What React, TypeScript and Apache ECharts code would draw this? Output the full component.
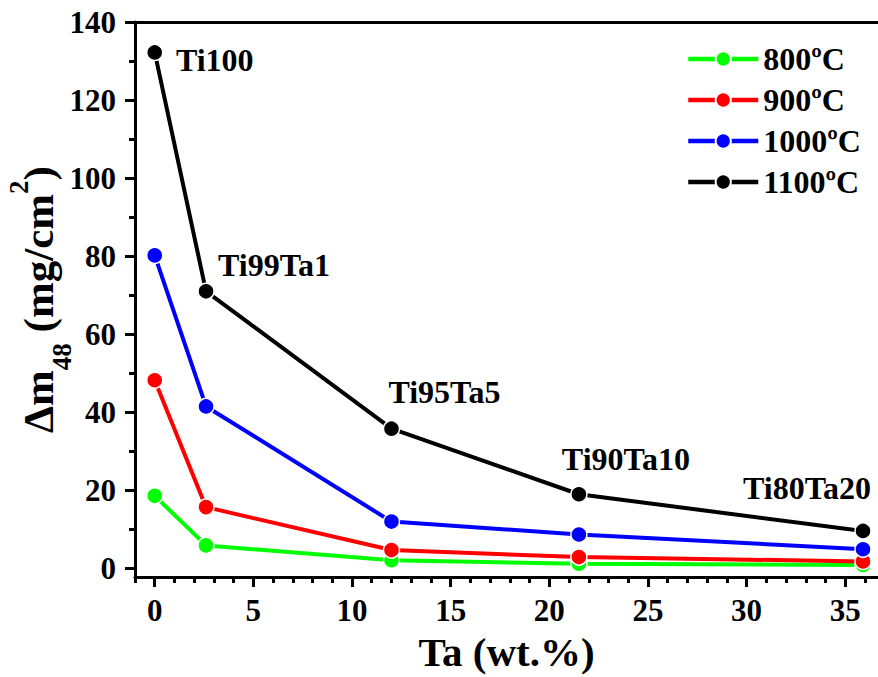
import React, { useEffect, useRef } from "react";
import * as echarts from "echarts";

const taContent = [0, 2.6, 12, 21.5, 35.9];
const alloyNames = ["Ti100", "Ti99Ta1", "Ti95Ta5", "Ti90Ta10", "Ti80Ta20"];
const seriesNames = ["800ºC", "900ºC", "1000ºC", "1100ºC"];
const values800 = [18.6, 5.9, 2.1, 1.2, 0.9];
const values900 = [48.2, 15.7, 4.7, 2.9, 1.8];
const values1000 = [80.2, 41.5, 12.0, 8.7, 4.9];
const values1100 = [132.2, 71.0, 35.8, 19.0, 9.6];
const xMajorTicks = [0, 5, 10, 15, 20, 25, 30, 35];
const xMinorTicks = [-1, 0, 1, 2, 3, 4, 5, 6, 7, 8, 9, 10, 11, 12, 13, 14, 15, 16, 17, 18, 19, 20, 21, 22, 23, 24, 25, 26, 27, 28, 29, 30, 31, 32, 33, 34, 35, 36];
const yMajorTicks = [0, 20, 40, 60, 80, 100, 120, 140];
const yMinorTicks = [10, 30, 50, 70, 90, 110, 130];

const colors = ["#00ff00", "#ff0000", "#0000ff", "#000000"];
const labelOffsets = [
  [60, 8],
  [68, -26],
  [53, -37],
  [47, -35],
  [-56, -43],
];

const FONT = "'Liberation Serif', 'Times New Roman', Times, serif";

export default function App() {
  const ref = useRef<HTMLDivElement>(null);
  useEffect(() => {
    document.body.style.margin = "0";
    const chart = echarts.init(ref.current!, undefined, { renderer: "svg" });
    const allValues = [values800, values900, values1000, values1100];
    const series = allValues.map((vals, si) => ({
      name: seriesNames[si],
      type: "line",
      xAxisIndex: 0,
      yAxisIndex: 0,
      symbol: "circle",
      symbolSize: 16,
      z: 2 + si,
      lineStyle: { color: colors[si], width: 4 },
      itemStyle: { color: colors[si], borderColor: "#ffffff", borderWidth: 1.5 },
      data: vals.map((v, i) => {
        const item: any = { value: [taContent[i], v] };
        if (si === 3) {
          item.label = {
            show: true,
            position: "inside",
            offset: labelOffsets[i],
            formatter: alloyNames[i],
            color: "#000",
            fontFamily: FONT,
            fontWeight: "bold",
            fontSize: 32,
          };
        }
        return item;
      }),
    }));
    const xBase = { min: -1, max: 36.66, gridIndex: 0, splitLine: { show: false } };
    const yBase = { min: -2.2, max: 140, gridIndex: 0, splitLine: { show: false } };
    chart.setOption({
      animation: false,
      backgroundColor: "#ffffff",
      grid: { left: 135, right: 0, top: 22, bottom: 100, containLabel: false, outerBoundsMode: "none" },
      legend: {
        left: 681,
        top: 38,
        orient: "vertical",
        itemWidth: 70,
        itemHeight: 19,
        itemGap: 9,
        data: seriesNames,
        lineStyle: { width: 4.5 },
        textStyle: { fontFamily: FONT, fontWeight: "bold", fontSize: 32, color: "#000", lineHeight: 32 },
      },
      xAxis: [
        {
          ...xBase,
          type: "value",
          position: "bottom",
          name: "Ta (wt.%)",
          nameLocation: "middle",
          nameGap: 55,
          nameMoveOverlap: false,
          nameTextStyle: { fontFamily: FONT, fontWeight: "bold", fontSize: 41, color: "#000", lineHeight: 40 },
          axisLine: { show: true, onZero: false, lineStyle: { color: "#000", width: 3 } },
          axisTick: { show: true, customValues: xMajorTicks, length: 10, lineStyle: { color: "#000", width: 3 } },
          axisLabel: {
            customValues: xMajorTicks,
            margin: 18,
            fontFamily: FONT,
            fontWeight: "bold",
            fontSize: 31,
            lineHeight: 30,
            color: "#000",
          },
        },
        {
          ...xBase,
          type: "value",
          position: "bottom",
          axisLine: { show: false, onZero: false },
          axisTick: { show: true, customValues: xMinorTicks, length: 6, lineStyle: { color: "#000", width: 3 } },
          axisLabel: { show: false },
        },
        {
          ...xBase,
          type: "value",
          position: "top",
          axisLine: { show: true, onZero: false, lineStyle: { color: "#000", width: 3 } },
          axisTick: { show: false },
          axisLabel: { show: false },
        },
      ],
      yAxis: [
        {
          ...yBase,
          type: "value",
          position: "left",
          name: "{a|Δm}{sub|48}{a| (mg/cm}{sup|2}{a|)}",
          nameLocation: "middle",
          nameGap: 73,
          nameMoveOverlap: false,
          nameRotate: 90,
          nameTextStyle: {
            color: "#000",
            rich: {
              a: { fontFamily: FONT, fontWeight: "bold", fontSize: 43, color: "#000", lineHeight: 48, verticalAlign: "middle" },
              sub: { fontFamily: FONT, fontWeight: "bold", fontSize: 27, color: "#000", lineHeight: 48, verticalAlign: "bottom", padding: [0, 0, -13, 0] },
              sup: { fontFamily: FONT, fontWeight: "bold", fontSize: 27, color: "#000", lineHeight: 48, verticalAlign: "top", padding: [-9, 0, 0, 0] },
            },
          },
          axisLine: { show: true, onZero: false, lineStyle: { color: "#000", width: 3 } },
          axisTick: { show: true, customValues: yMajorTicks, length: 10, lineStyle: { color: "#000", width: 3 } },
          axisLabel: {
            customValues: yMajorTicks,
            margin: 19,
            fontFamily: FONT,
            fontWeight: "bold",
            fontSize: 31,
            color: "#000",
          },
        },
        {
          ...yBase,
          type: "value",
          position: "left",
          axisLine: { show: false, onZero: false },
          axisTick: { show: true, customValues: yMinorTicks, length: 6, lineStyle: { color: "#000", width: 3 } },
          axisLabel: { show: false },
        },
      ],
      series,
    });
    return () => chart.dispose();
  }, []);
  return <div ref={ref} style={{ width: 878, height: 677 }} />;
}
